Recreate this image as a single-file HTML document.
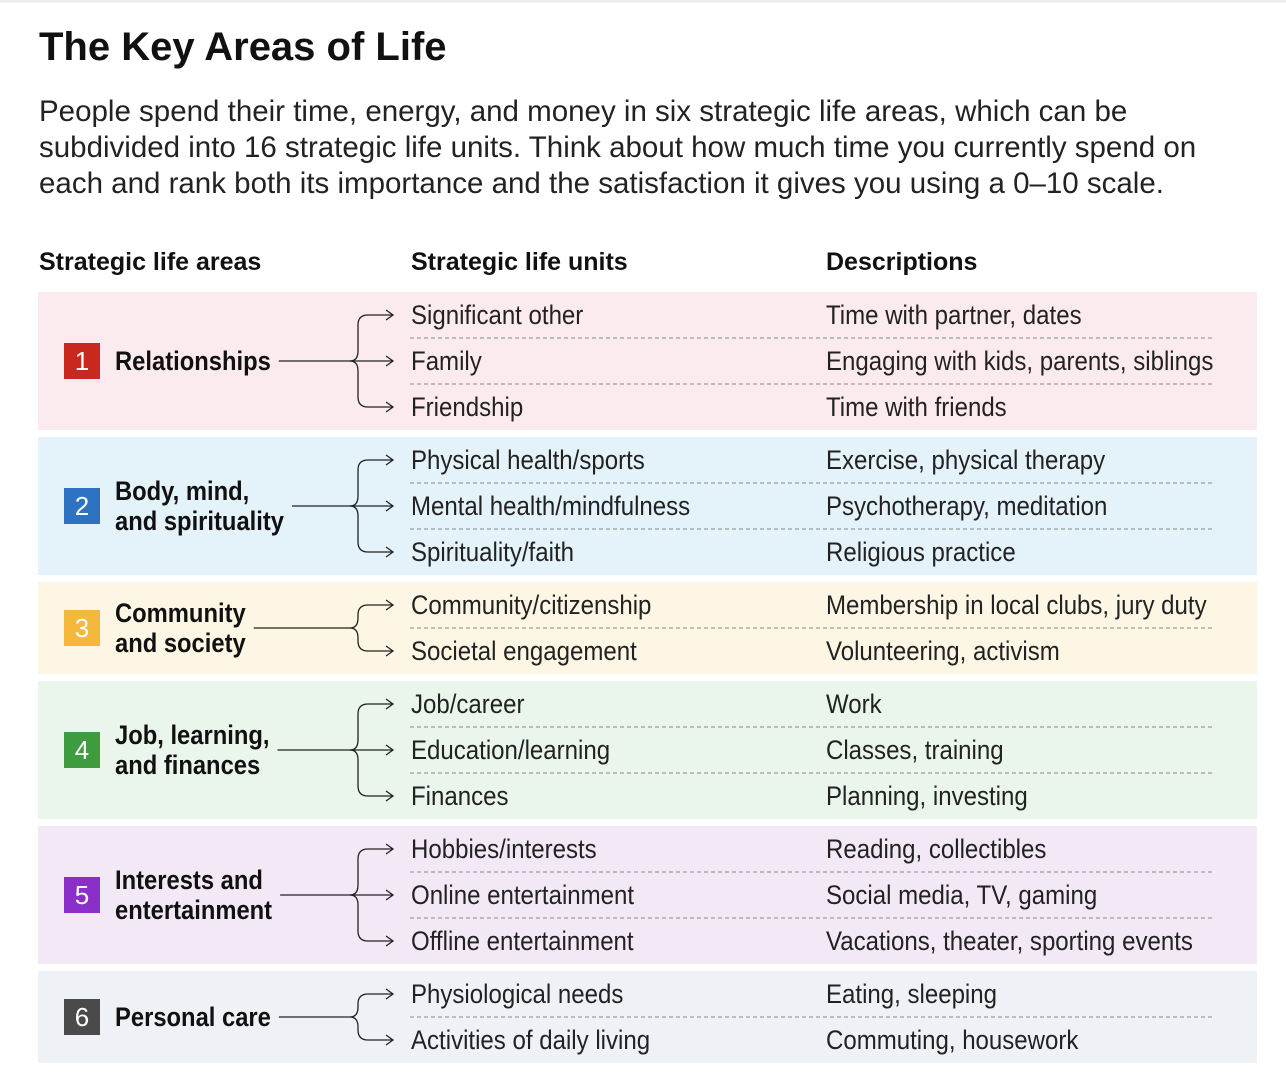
<!DOCTYPE html>
<html><head><meta charset="utf-8">
<style>
html,body{margin:0;padding:0;background:#fff;width:1286px;height:1088px;overflow:hidden}
svg{display:block}
.title{font-family:"Liberation Sans",sans-serif;font-weight:bold;font-size:40px;fill:#111}
.sub{font-family:"Liberation Sans",sans-serif;font-size:29.5px;fill:#222}
.hdr{font-family:"Liberation Sans",sans-serif;font-weight:bold;font-size:25px;fill:#111}
.area{font-family:"Liberation Sans",sans-serif;font-weight:bold;font-size:27px;fill:#111}
.unit{font-family:"Liberation Sans",sans-serif;font-size:27px;fill:#222}
.num{font-family:"Liberation Sans",sans-serif;font-size:26px;fill:#fff}
</style></head><body>
<svg id="chart" width="1286" height="1088" viewBox="0 0 1286 1088">
<rect x="0" y="0" width="1286" height="3" fill="#eee"/>
<text class="title" x="39" y="60">The Key Areas of Life</text>
<text class="sub" x="39" y="121">People spend their time, energy, and money in six strategic life areas, which can be</text>
<text class="sub" x="39" y="157">subdivided into 16 strategic life units. Think about how much time you currently spend on</text>
<text class="sub" x="39" y="193">each and rank both its importance and the satisfaction it gives you using a 0–10 scale.</text>
<text class="hdr" x="39" y="270">Strategic life areas</text>
<text class="hdr" x="411" y="270">Strategic life units</text>
<text class="hdr" x="826" y="270">Descriptions</text>
<g id="rows"></g>
</svg>
<script>
const areaNames = [["Relationships"],["Body, mind,","and spirituality"],["Community","and society"],["Job, learning,","and finances"],["Interests and","entertainment"],["Personal care"]];
const areaUnits = [
 ["Significant other","Family","Friendship"],
 ["Physical health/sports","Mental health/mindfulness","Spirituality/faith"],
 ["Community/citizenship","Societal engagement"],
 ["Job/career","Education/learning","Finances"],
 ["Hobbies/interests","Online entertainment","Offline entertainment"],
 ["Physiological needs","Activities of daily living"]];
const areaDescs = [
 ["Time with partner, dates","Engaging with kids, parents, siblings","Time with friends"],
 ["Exercise, physical therapy","Psychotherapy, meditation","Religious practice"],
 ["Membership in local clubs, jury duty","Volunteering, activism"],
 ["Work","Classes, training","Planning, investing"],
 ["Reading, collectibles","Social media, TV, gaming","Vacations, theater, sporting events"],
 ["Eating, sleeping","Commuting, housework"]];
const bandColors = ["#fcebee","#e4f2f9","#fdf6e4","#eaf5ec","#f3e8f6","#eef2f6"];
const badgeColors = ["#c9281f","#2e73c1","#f3b83c","#3e9b40","#8a2fc8","#4a4a4a"];

(function(){
const NS="http://www.w3.org/2000/svg";
const g=document.getElementById('rows');
function mk(tag,attrs,parent){const e=document.createElementNS(NS,tag);for(const k in attrs)e.setAttribute(k,attrs[k]);(parent||g).appendChild(e);return e;}
function squeeze(t,f){let w=0;try{w=t.getComputedTextLength();}catch(e){w=t.textContent.length*13;}
  const nw=w*f;t.setAttribute('textLength',nw.toFixed(1));t.setAttribute('lengthAdjust','spacingAndGlyphs');return nw;}
const ROW=46;
let yTop=292;
areaUnits.forEach((units,i)=>{
  const n=units.length,h=n*ROW,cy=yTop+h/2;
  const grp=mk('g',{});
  
  
  const band=mk('rect',{x:38,y:yTop,width:1219,height:h,fill:bandColors[i]},grp);
  
  
  const badge=mk('rect',{x:64,y:cy-18,width:36,height:36,fill:badgeColors[i]},grp);
  
  
  const nt=mk('text',{class:'num',x:82,y:cy+9,'text-anchor':'middle'},grp);
  nt.textContent=String(i+1);
  
  
  const lines=areaNames[i];
  let maxEnd=115;
  lines.forEach((ln,j)=>{
    const y=cy+9+(j-(lines.length-1)/2)*30;
    const t=mk('text',{class:'area',x:115,y:y},grp);
    t.textContent=ln;
    
    
    maxEnd=Math.max(maxEnd,115+squeeze(t,0.88));
  });
  const bx=358;
  mk('line',{x1:maxEnd+8,y1:cy,x2:bx-8,y2:cy,stroke:'#222','stroke-width':1.3},grp);
  units.forEach((u,j)=>{
    const ry=yTop+ROW*j+ROW/2;
    let d;
    if(Math.abs(ry-cy)<1){d=`M${bx-8},${cy} L392,${ry}`;}
    else{const s=ry<cy?-1:1;d=`M${bx-8},${cy} Q${bx},${cy} ${bx},${cy+s*10} L${bx},${ry-s*10} Q${bx},${ry} ${bx+10},${ry} L392,${ry}`;}
    const p=mk('path',{d:d,fill:'none',stroke:'#222','stroke-width':1.3},grp);
    
    
    mk('path',{d:`M386,${ry-5} L393,${ry} L386,${ry+5}`,fill:'none',stroke:'#222','stroke-width':1.3},grp);
    const ut=mk('text',{class:'unit',x:411,y:ry+9},grp);
    ut.textContent=u;
    
    
    squeeze(ut,0.89);
    const dt=mk('text',{class:'unit',x:826,y:ry+9},grp);
    dt.textContent=areaDescs[i][j];
    
    
    squeeze(dt,0.89);
    if(j<n-1){
      const dl=mk('line',{x1:410,y1:yTop+ROW*(j+1),x2:1214,y2:yTop+ROW*(j+1),stroke:'#888','stroke-width':1,'stroke-dasharray':'4,3'},grp);
      
      
    }
  });
  yTop+=h+7;
});
})();
</script>
</body></html>
